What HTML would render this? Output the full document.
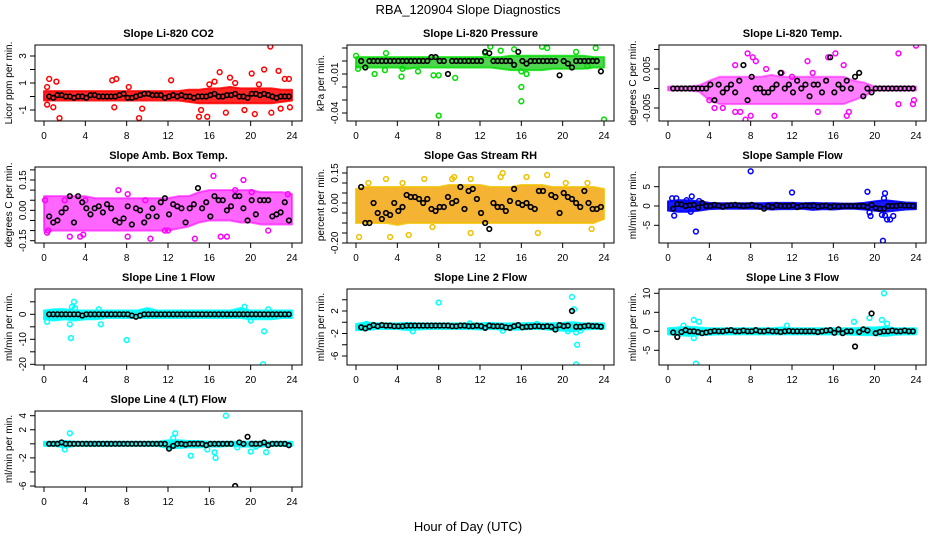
<!DOCTYPE html>
<html><head><meta charset="utf-8">
<style>
body{margin:0;background:#fff;}
svg{display:block;font-family:"Liberation Sans",sans-serif;}
</style></head>
<body>
<svg id="chart" width="936" height="540" viewBox="0 0 936 540" xmlns="http://www.w3.org/2000/svg">
<rect x="0" y="0" width="936" height="540" fill="#fff"/>
<text x="468" y="14" text-anchor="middle" font-size="13">RBA_120904  Slope Diagnostics</text>
<text x="468" y="531" text-anchor="middle" font-size="13">Hour of Day (UTC)</text>
</svg>
<script>
// shared hour grid for mean (black) points
const meanHours=[0.5,0.9,1.3,1.7,2.1,2.5,2.9,3.3,3.7,4.1,4.5,4.9,5.3,5.7,6.1,6.5,6.9,7.3,7.7,8.1,8.5,8.9,9.3,9.7,10.1,10.5,10.9,11.3,11.7,12.1,12.5,12.9,13.3,13.7,14.1,14.5,14.9,15.3,15.7,16.1,16.5,16.9,17.3,17.7,18.1,18.5,18.9,19.3,19.7,20.1,20.5,20.9,21.3,21.7,22.1,22.5,22.9,23.3,23.7];
const bandHours=[0,1,2,3,4,5,6,7,8,9,10,11,12,13,14,15,16,17,18,19,20,21,22,23,24];

// Panel 1: CO2
const co2Hi=[0.4,0.4,0.4,0.4,0.4,0.4,0.4,0.4,0.4,0.4,0.4,0.4,0.4,0.4,0.5,0.5,0.6,0.6,0.7,0.6,0.6,0.6,0.6,0.5,0.5];
const co2Lo=[-0.3,-0.3,-0.3,-0.3,-0.3,-0.3,-0.3,-0.3,-0.3,-0.3,-0.3,-0.3,-0.3,-0.3,-0.4,-0.5,-0.5,-0.5,-0.5,-0.5,-0.5,-0.5,-0.5,-0.4,-0.3];
const co2OutX=[0.3,0.5,0.3,1.2,1.5,0.9,6.6,7,6.8,9.2,9.5,8.2,12.3,15,15.2,15.8,16,16.5,17,17.6,18,19.4,20.1,20.4,21.3,21.9,22,22.7,23.3,23.7,23.8,22.9,18.5,20.8];
const co2OutY=[0.7,1.3,-0.6,1.1,-1.6,-0.8,1.2,1.3,-0.8,-1.6,-0.9,0.7,1.2,-1.5,-1,-1.5,0.9,1.1,1.8,-1.2,1.4,-1,1.7,-1.3,2,3.7,-1.2,1.9,1.3,1.3,-0.8,-0.9,1,0.9];
const co2Mean=[0,-0.1,0.1,0.1,0,0,-0.1,0,0,-0.1,0.1,0.1,0,0,0,0,0,0.1,0.2,-0.1,-0.1,0,0.1,0.2,0.2,0.1,0.1,0.1,-0.1,0,0.1,0,0.1,0,0,-0.1,0,0,0,0.1,0.2,0,0,0.1,0.1,0.2,0,0,-0.1,0.2,0.2,0.1,0.2,0.1,0,-0.1,0,0,0];

// Panel 2: pressure
const presHi=[0.003,0.003,0.003,0.003,0.003,0.003,0.003,0.003,0.003,0.003,0.003,0.003,0.003,0.003,0.003,0.004,0.004,0.004,0.004,0.004,0.004,0.004,0.004,0.003,0.003];
const presLo=[-0.005,-0.005,-0.005,-0.005,-0.005,-0.006,-0.005,-0.005,-0.005,-0.005,-0.005,-0.005,-0.005,-0.005,-0.006,-0.007,-0.007,-0.007,-0.007,-0.006,-0.006,-0.006,-0.006,-0.005,-0.005];
const presOutX=[0,0.2,1.8,2.8,2.9,4.4,4.5,6,7.5,8,8,9.6,12.5,13,14,15.3,16,16,16,16.5,18,18.5,21.3,23.2,24,22.4];
const presOutY=[0.004,-0.006,-0.01,-0.007,0.006,-0.012,-0.006,-0.008,-0.011,-0.011,-0.042,-0.013,0.006,0.011,0.008,0.009,-0.02,-0.031,-0.008,-0.01,0.011,0.01,0.007,0.01,-0.045,-0.004];
const presMean=[0,-0.005,0,0,0,0,0,0,0,0,0,0,0,0,0,0,0,0.003,0.003,0,0,-0.01,0,0,0,0,0,0,0,0,0.007,0.006,0,0,0,0,0,-0.003,0.007,0,-0.002,0,0,0,0,0,0,0,-0.011,0,-0.002,-0.005,0,0,0,0,0,0,-0.008];

// Panel 3: Li-820 temp
const tempHi=[0.0005,0.0005,0.0005,0.0008,0.002,0.003,0.003,0.003,0.003,0.003,0.0035,0.003,0.003,0.003,0.003,0.003,0.003,0.003,0.002,0.0015,0.0005,0.0005,0.0005,0.0005,0.0005];
const tempLo=[-0.0005,-0.0005,-0.0005,-0.0008,-0.003,-0.004,-0.004,-0.004,-0.004,-0.004,-0.004,-0.004,-0.004,-0.004,-0.004,-0.004,-0.004,-0.004,-0.003,-0.002,-0.0005,-0.0005,-0.0005,-0.0005,-0.0005];
const tempOutX=[7.7,8.2,8.5,6.5,9.5,13.5,15.5,16.2,17,22.3,24,7.5,8,10.3,14.5,17.3,17.5,22.3,23.7,6.5,7,4.5,5.3,4,23.8,11,12,14];
const tempOutY=[0.009,0.008,0.007,0.006,0.005,0.007,0.008,0.009,0.006,0.009,0.011,-0.008,-0.007,-0.007,-0.006,-0.007,-0.006,-0.004,-0.004,-0.006,-0.006,-0.005,-0.005,-0.003,-0.003,0.004,0.003,0.004];
const tempMean=[0,0,0,0,0,0,0,0,0,0.001,-0.003,0.001,-0.001,0,0.001,-0.001,0.002,0.006,-0.003,0.003,0,0,-0.001,-0.001,0,0.001,0.004,0,0.001,-0.001,0.002,0,0.001,-0.002,0.001,0.001,-0.001,0.002,0.008,-0.001,0.001,0,0.002,0,0.003,0.004,-0.002,0,-0.001,0,0,0,0,0,0,0,0,0,0];

// Panel 4: ambient box temp
const ambHi=[0.07,0.07,0.07,0.07,0.07,0.06,0.06,0.06,0.06,0.06,0.06,0.06,0.06,0.07,0.07,0.09,0.1,0.1,0.1,0.1,0.1,0.09,0.09,0.09,0.08];
const ambLo=[-0.1,-0.1,-0.1,-0.1,-0.1,-0.1,-0.1,-0.1,-0.1,-0.1,-0.1,-0.1,-0.1,-0.09,-0.08,-0.06,-0.05,-0.05,-0.05,-0.06,-0.06,-0.07,-0.07,-0.07,-0.07];
const ambOutX=[0.1,0.5,0.4,2.5,3.5,7.2,8.1,8.1,10.3,11.7,14.6,16.4,19.3,17.1,17.7,20.1,23.6,21.7,18.5,2,4,9.8,0.3,3.8,12];
const ambOutY=[0.05,-0.18,-0.1,-0.13,-0.13,0.1,0.08,-0.13,-0.14,-0.1,-0.14,0.17,0.15,-0.13,-0.13,0.09,0.08,-0.1,0.1,0.05,0.05,0.05,-0.11,-0.12,-0.1];
const ambMean=[-0.03,-0.06,-0.05,-0.01,0.01,0.07,-0.06,0.07,0.04,0.01,-0.02,0.01,0.02,-0.01,0.03,0.01,-0.05,-0.06,-0.04,0.02,-0.07,0.01,0,-0.06,-0.03,0.01,-0.03,0.04,0.06,-0.02,0.03,0.02,0.01,-0.06,0.01,0.03,0.11,0.01,0.04,-0.03,0.07,0.05,0.05,0,0.02,0.07,0.07,0.01,-0.05,0.05,-0.02,0.05,0.05,0.05,-0.03,-0.02,-0.01,0.04,-0.05];

// Panel 5: gas stream RH
const rhHi=[0.07,0.08,0.08,0.08,0.08,0.08,0.08,0.08,0.08,0.09,0.09,0.09,0.09,0.08,0.08,0.08,0.09,0.09,0.09,0.08,0.08,0.08,0.08,0.08,0.07];
const rhLo=[-0.1,-0.1,-0.1,-0.1,-0.11,-0.1,-0.1,-0.1,-0.1,-0.1,-0.1,-0.1,-0.1,-0.1,-0.1,-0.1,-0.1,-0.1,-0.1,-0.1,-0.1,-0.1,-0.1,-0.1,-0.08];
const rhOutX=[0.3,3.3,4.5,5.1,2.9,4.5,6.6,9.3,11.1,14.2,14,16.5,18.5,20.3,22.4,11.1,17.6,22.8,7.4,1.2,9.5];
const rhOutY=[-0.17,-0.17,-0.22,-0.16,0.12,0.1,0.12,0.12,0.12,0.15,0.13,0.13,0.14,0.1,0.1,-0.15,-0.15,-0.13,-0.12,0.1,0.13];
const rhMean=[0.08,-0.1,-0.1,0,-0.05,-0.08,-0.05,-0.06,0,-0.04,-0.02,0.04,0.03,0.03,0.02,0,0.02,-0.03,-0.04,-0.02,-0.02,0.03,0,0.01,0.08,-0.03,0.06,0.07,0.02,-0.05,-0.1,-0.13,0,-0.02,-0.02,-0.04,0.01,0.07,0,-0.01,0,-0.02,-0.03,0.06,0.06,-0.22,0.04,0.03,-0.05,0.05,0.03,0.02,0,-0.02,0.06,0,-0.03,-0.03,-0.02];

// Panel 6: sample flow
const sfHi=[1.2,1.5,1.5,1.2,0.8,0.7,0.7,0.7,0.7,0.7,0.8,0.8,0.8,0.7,0.8,0.7,0.7,0.6,0.6,0.8,1.2,1.5,1.2,0.9,0.8];
const sfLo=[-1.2,-1.5,-1.5,-1.2,-0.8,-0.7,-0.7,-0.7,-0.7,-0.7,-0.9,-0.8,-0.8,-0.7,-1,-0.8,-0.9,-0.7,-0.7,-0.9,-1.2,-1.5,-1.2,-0.9,-0.8];
const sfOutX=[0.6,0.4,0.8,2.3,2.2,2.7,8,12,19.3,19.5,19.6,20.7,20.8,20.9,21,21.2,21.5,21.8,21,3,1.8];
const sfOutY=[-2.5,2,2,2.5,-1.5,-6.6,9,3.5,3.7,-1.7,-2.6,-2.3,-9,2,3.3,-3.5,-3.5,-2.6,-2.5,1.3,1.5];
const sfMean=[-0.7,0.5,0.4,0,0.2,0.3,-0.4,0.8,0,0,0.3,0.1,-0.2,0.1,0.2,0.3,0.1,0,0.1,0.3,0,-0.2,-0.7,0,-0.3,0.2,0,0,0,0.2,-0.3,0,0.1,0,0.1,-0.2,0,0.1,-0.3,0,-0.1,0,0,0,0,0,0,-0.3,0.3,-0.5,-0.7,-0.7,0,0,0,0.2,0.1,0.1,0];

// Panel 7: line 1 flow
const l1Hi=[1.5,2,2,1.5,1.5,1.5,1.5,1.5,1.5,1.5,2.5,1.5,1.5,1.5,1.5,1.5,1.5,1.5,1.5,2.5,1.5,1.5,1.5,1.5,1.5];
const l1Lo=[-2,-2.5,-2,-2.5,-2,-2,-1.5,-1.5,-1.5,-1.5,-1.5,-1.5,-1.5,-1.5,-1.5,-1.5,-1.5,-1.5,-1.5,-1.5,-2,-2,-2,-1.5,-1.5];
const l1OutX=[2.5,2.6,2.7,2.9,3,5.5,5.3,8,19.4,21.2,21.3,21.5,21.7,20,0.3];
const l1OutY=[-4,-9.5,3,5,2.5,-4,2,-10.3,3,-20,-6.8,19,2,-2.5,-3];
const l1Mean=[0,0,0,0,0,0,0,0,-0.5,0,0,0,0,0,0,0,0,0,0,0,-0.5,-1,-0.5,0,0,0,0,0,0,0,0,0,0,0,0,0,0,0,0,0,0,0,0,0,0,0,0,0,0,0,0,0,0,0,0,0,0,0,0];

// Panel 8: line 2 flow
const l2Hi=[-0.3,0,-0.2,-0.2,-0.2,-0.1,-0.2,-0.2,-0.2,-0.2,-0.2,-0.2,-0.2,-0.1,-0.2,-0.2,-0.2,-0.1,-0.2,-0.2,-0.1,0,-0.2,-0.2,-0.2];
const l2Lo=[-1.4,-1.4,-1.2,-1.2,-1.2,-1.4,-1.3,-1.2,-1.2,-1.2,-1.2,-1.2,-1.3,-1.2,-1.3,-1.3,-1.3,-1.2,-1.2,-1.4,-1.5,-1.6,-1.3,-1.2,-1.2];
const l2OutX=[8,20.9,21.1,21.3,21.4,21.3,21.7,5.5,14.2,11,17.5,1,20.5];
const l2OutY=[3.5,4.5,2.3,-1.8,-4,-7.5,-1.5,-1.6,-1.5,-0.2,-0.3,-0.3,-1.6];
const l2Mean=[-0.9,-1.1,-0.8,-0.5,-0.7,-0.5,-0.6,-0.6,-0.7,-0.7,-0.7,-0.6,-0.6,-0.6,-0.6,-0.6,-0.6,-0.6,-0.6,-0.6,-0.6,-0.6,-0.7,-0.7,-0.6,-0.6,-0.7,-0.7,-0.6,-0.7,-1,-0.6,-0.7,-0.7,-0.7,-0.9,-1,-0.7,-0.5,-0.9,-0.8,-0.8,-0.7,-0.7,-0.8,-0.7,-0.8,-1.3,-0.5,-0.7,-0.6,2,-0.8,-0.8,-0.7,-0.6,-0.7,-0.7,-0.8];

// Panel 9: line 3 flow
const l3Hi=[0.8,1,1.2,1,0.8,0.8,0.8,0.8,0.8,0.8,0.8,1,0.8,0.8,0.8,0.8,0.8,0.8,0.8,1,1,1.2,0.8,0.8,0.8];
const l3Lo=[-0.8,-1,-1.2,-1,-0.9,-0.8,-0.8,-0.8,-0.8,-0.8,-0.8,-0.8,-0.8,-0.8,-0.8,-0.8,-0.8,-0.8,-0.9,-1,-1,-1.2,-0.9,-0.8,-0.8];
const l3OutX=[2.7,2.5,3,2.5,1.5,18,19.5,20.7,20.9,21.2,11.5];
const l3OutY=[-8.5,3,2.5,-1.8,1.5,2.5,3.5,3,10,2,1.5];
const l3Mean=[-0.3,-1.5,-0.2,0.3,0,0,-0.2,-0.5,-0.3,-0.1,0.1,0,0,0.2,0.3,0,0,0.2,0,0,0.3,0,0,0.2,0,0,-0.2,0,0.1,0,0,0,0,0,0,-0.2,0,0.2,0.3,-0.4,0.5,-0.5,0,0,-4,-0.2,0.5,0.2,4.7,-0.5,-0.2,0,0,0.2,0,0,0.2,0,0];

// Panel 10: line 4 (LT) flow
const l4Hi=[0.3,0.3,0.4,0.3,0.3,0.3,0.3,0.3,0.3,0.3,0.3,0.3,0.5,0.5,0.4,0.4,0.3,0.3,0.3,0.3,0.3,0.3,0.3,0.3,0.3];
const l4Lo=[-0.3,-0.3,-0.5,-0.3,-0.3,-0.3,-0.3,-0.3,-0.3,-0.3,-0.3,-0.3,-0.6,-0.6,-0.5,-0.5,-0.4,-0.4,-0.3,-0.4,-0.4,-0.4,-0.3,-0.3,-0.3];
const l4OutX=[2.5,2,12.7,12.5,14.2,15.8,16.5,16.6,17.6,18.7,20,21.5,20.5,12.2];
const l4OutY=[1.5,-0.8,1.5,0.8,-1.7,-0.8,-1.2,-2,4,-0.5,-1.1,-1.2,-0.4,-0.5];
const l4Mean=[0,0,0,0.2,0,0,0,0,0,0,0,0,0,0,0,0,0,0,0,0,0,0,0,0,0,0,0,0,0,-0.7,-0.3,0,0,-0.1,0,0,0,0,-0.2,0,0,0,0,0,0,-6,0.2,0,1,0,0,0,0.2,-0.2,0,0,0,0,-0.2];

const panels=[
 {id:'co2',title:'Slope Li-820 CO2',ylab:'Licor ppm per min.',c:0,r:0,a:[3,56],b:[-1,110],ticks:[-1,0,1,2,3],labels:[-1,1,3],col:'#ff0000',fill:'#ff0000',op:0.85,hi:co2Hi,lo:co2Lo,ox:co2OutX,oy:co2OutY,m:co2Mean},
 {id:'pressure',title:'Slope Li-820 Pressure',ylab:'kPa per min.',c:1,r:0,a:[-0.01,74],b:[-0.04,113],ticks:[0.01,0,-0.01,-0.02,-0.03,-0.04],labels:[-0.01,-0.04],col:'#00dd00',fill:'#22cc22',op:0.8,hi:presHi,lo:presLo,ox:presOutX,oy:presOutY,m:presMean},
 {id:'li820-temp',title:'Slope Li-820 Temp.',ylab:'degrees C per min.',c:2,r:0,a:[0.005,69],b:[-0.005,108],ticks:[0.01,0.005,0,-0.005],labels:[0.005,-0.005],col:'#ff00ff',fill:'#ff00ff',op:0.5,hi:tempHi,lo:tempLo,ox:tempOutX,oy:tempOutY,m:tempMean},
 {id:'amb-box-temp',title:'Slope Amb. Box Temp.',ylab:'degrees C per min.',c:0,r:1,a:[0.15,180],b:[-0.15,240.7],ticks:[0.2,0.15,0.1,0.05,0,-0.05,-0.1,-0.15],labels:['0.15','0.00','-0.15'],col:'#ff00ff',fill:'#ff00ff',op:0.6,hi:ambHi,lo:ambLo,ox:ambOutX,oy:ambOutY,m:ambMean},
 {id:'gas-rh',title:'Slope Gas Stream RH',ylab:'percent per min.',c:1,r:1,a:[0.15,173],b:[-0.2,243],ticks:[0.15,0.1,0.05,0,-0.05,-0.1,-0.15,-0.2],labels:['0.15','0.00','-0.20'],col:'#f0c000',fill:'#f2a000',op:0.8,hi:rhHi,lo:rhLo,ox:rhOutX,oy:rhOutY,m:rhMean},
 {id:'sample-flow',title:'Slope Sample Flow',ylab:'ml/min per min.',c:2,r:1,a:[5,186.7],b:[-5,225.3],ticks:[5,0,-5],labels:[5,0,-5],col:'#0000ff',fill:'#0000ff',op:0.9,hi:sfHi,lo:sfLo,ox:sfOutX,oy:sfOutY,m:sfMean},
 {id:'line1-flow',title:'Slope Line 1 Flow',ylab:'ml/min per min.',c:0,r:2,a:[0,314.3],b:[-20,364.3],ticks:[5,0,-5,-10,-15,-20],labels:[0,-10,-20],col:'#00ffff',fill:'#00f0f0',op:0.9,hi:l1Hi,lo:l1Lo,ox:l1OutX,oy:l1OutY,m:l1Mean},
 {id:'line2-flow',title:'Slope Line 2 Flow',ylab:'ml/min per min.',c:1,r:2,a:[2,311],b:[-6,356],ticks:[4,2,0,-2,-4,-6],labels:[2,-2,-6],col:'#00ffff',fill:'#00f0f0',op:0.9,hi:l2Hi,lo:l2Lo,ox:l2OutX,oy:l2OutY,m:l2Mean},
 {id:'line3-flow',title:'Slope Line 3 Flow',ylab:'ml/min per min.',c:2,r:2,a:[10,293.3],b:[-5,350.3],ticks:[10,5,0,-5],labels:[10,5,0,-5],col:'#00ffff',fill:'#00f0f0',op:0.9,hi:l3Hi,lo:l3Lo,ox:l3OutX,oy:l3OutY,m:l3Mean},
 {id:'line4-flow',title:'Slope Line 4 (LT) Flow',ylab:'ml/min per min.',c:0,r:3,a:[4,415.7],b:[-6,486],ticks:[4,2,0,-2,-4,-6],labels:[4,2,-2,-6],col:'#00ffff',fill:'#00f0f0',op:0.9,hi:l4Hi,lo:l4Lo,ox:l4OutX,oy:l4OutY,m:l4Mean}
];
const xTicks=[0,4,8,12,16,20,24];

const NS='http://www.w3.org/2000/svg';
const svg=document.getElementById('chart');
function mk(tag,attrs,parent){const e=document.createElementNS(NS,tag);for(const k in attrs)e.setAttribute(k,attrs[k]);(parent||svg).appendChild(e);return e;}

panels.forEach(p=>{
  const L=35+312*p.c, R=302+312*p.c, T=45+122*p.r, B=121+122*p.r;
  const xs=h=>44+312*p.c+h*(248/24);
  const ys=v=>p.a[1]+(v-p.a[0])*(p.b[1]-p.a[1])/(p.b[0]-p.a[0]);
  const g=mk('g',{});
  
  
  const clip=mk('clipPath',{id:'clip-'+p.id},g);
  mk('rect',{x:L,y:T,width:R-L,height:B-T},clip);
  const plot=mk('g',{'clip-path':'url(#clip-'+p.id+')'},g);
  let pts=[];
  bandHours.forEach((h,i)=>pts.push(xs(h)+','+ys(p.hi[i])));
  for(let i=bandHours.length-1;i>=0;i--)pts.push(xs(bandHours[i])+','+ys(p.lo[i]));
  const band=mk('polygon',{points:pts.join(' '),fill:p.fill,'fill-opacity':p.op,stroke:p.col,'stroke-width':2,'stroke-linejoin':'round','stroke-opacity':p.op},plot);
  
  
  p.ox.forEach((x,i)=>{
    const c=mk('circle',{cx:xs(x),cy:ys(p.oy[i]),r:2.4,fill:'none',stroke:p.col,'stroke-width':1.5},plot);
    
    
  });
  const n=Math.min(meanHours.length,p.m.length);
  for(let i=0;i<n;i++){
    const c=mk('circle',{cx:xs(meanHours[i]),cy:ys(p.m[i]),r:2.3,fill:'none',stroke:'#000','stroke-width':1.6},plot);
    
    
  }
  const box=mk('rect',{x:L,y:T,width:R-L,height:B-T,fill:'none',stroke:'#000','stroke-width':1},g);
  
  
  const t=mk('text',{x:(L+R)/2,y:T-8,'text-anchor':'middle','font-size':11,'font-weight':'bold'},g);
  t.textContent=p.title;
  
  
  mk('line',{x1:xs(0),x2:xs(24),y1:B,y2:B,stroke:'#000'},g);
  xTicks.forEach(h=>{
    mk('line',{x1:xs(h),x2:xs(h),y1:B,y2:B+5,stroke:'#000'},g);
    const tl=mk('text',{x:xs(h),y:B+18,'text-anchor':'middle','font-size':10},g);
    tl.textContent=h;
    
    
  });
  const tmin=ys(p.ticks[0]), tmax=ys(p.ticks[p.ticks.length-1]);
  mk('line',{x1:L,x2:L,y1:tmin,y2:tmax,stroke:'#000'},g);
  p.ticks.forEach(v=>mk('line',{x1:L-5,x2:L,y1:ys(v),y2:ys(v),stroke:'#000'},g));
  p.labels.forEach(v=>{
    const yy=ys(parseFloat(v));
    const tl=mk('text',{x:L-9,y:yy,'text-anchor':'middle','font-size':10,transform:'rotate(-90 '+(L-9)+' '+yy+')'},g);
    tl.textContent=v;
    
    
  });
  const yl=mk('text',{x:L-23,y:(T+B)/2,'text-anchor':'middle','font-size':10,transform:'rotate(-90 '+(L-23)+' '+((T+B)/2)+')'},g);
  yl.textContent=p.ylab;
  
  
});
</script>
</body></html>
